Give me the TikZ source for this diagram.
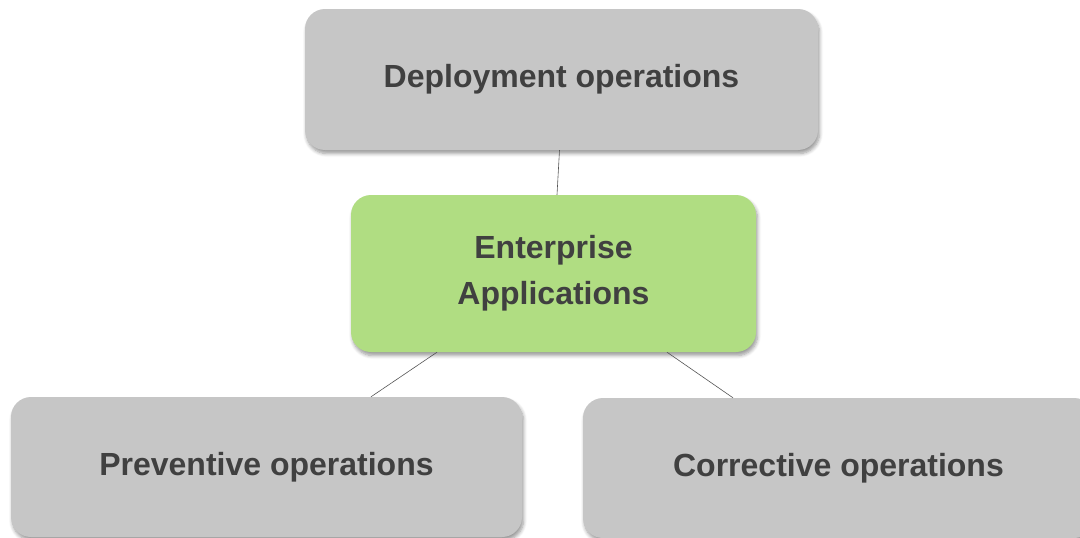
\documentclass[tikz,border=0pt]{standalone}
\usepackage{fontspec}
\setmainfont{Liberation Sans}
\usetikzlibrary{shadows.blur}
\definecolor{boxgray}{HTML}{C6C6C6}
\definecolor{boxgreen}{HTML}{B0DD82}
\definecolor{txt}{HTML}{404040}
\definecolor{linec}{HTML}{555555}
\tikzset{
  box/.style={rounded corners=20pt, draw=none, align=center, text=txt,
    font=\fontsize{32}{46}\selectfont\bfseries, inner sep=0pt,
    blur shadow={shadow xshift=1.5pt, shadow yshift=-3.5pt, shadow blur steps=6, shadow blur radius=3.5pt, shadow opacity=40}},
  graybox/.style={box, fill=boxgray, minimum width=511pt, minimum height=140pt},
  greenbox/.style={box, fill=boxgreen, minimum width=405pt, minimum height=157pt},
  conn/.style={draw=linec, line width=0.6pt}
}
\begin{document}
\begin{tikzpicture}[x=1pt,y=-1pt]
\useasboundingbox (0,0) rectangle (1080,538);
\clip (0,0) rectangle (1080,538);
\node[graybox, minimum width=513pt, minimum height=141pt] (dep) at (561.5,79.5) {\raisebox{-2pt}{Deployment operations}};
\node[greenbox] (ent) at (553.5,273.5) {\raisebox{-2pt}{Enterprise}\\\raisebox{-2pt}{Applications}};
\node[graybox] (prev) at (266.5,467) {\raisebox{-1.5pt}{Preventive operations}};
\node[graybox] (corr) at (838.5,468) {\raisebox{-1pt}{Corrective operations}};
\draw[conn] ([xshift=-2pt]dep.south) -- ([xshift=3.5pt]ent.north);
\draw[conn] ([xshift=-116.5pt]ent.south) -- ([xshift=104.5pt]prev.north);
\draw[conn] ([xshift=113.5pt]ent.south) -- ([xshift=-105.5pt]corr.north);
\end{tikzpicture}
\end{document}
